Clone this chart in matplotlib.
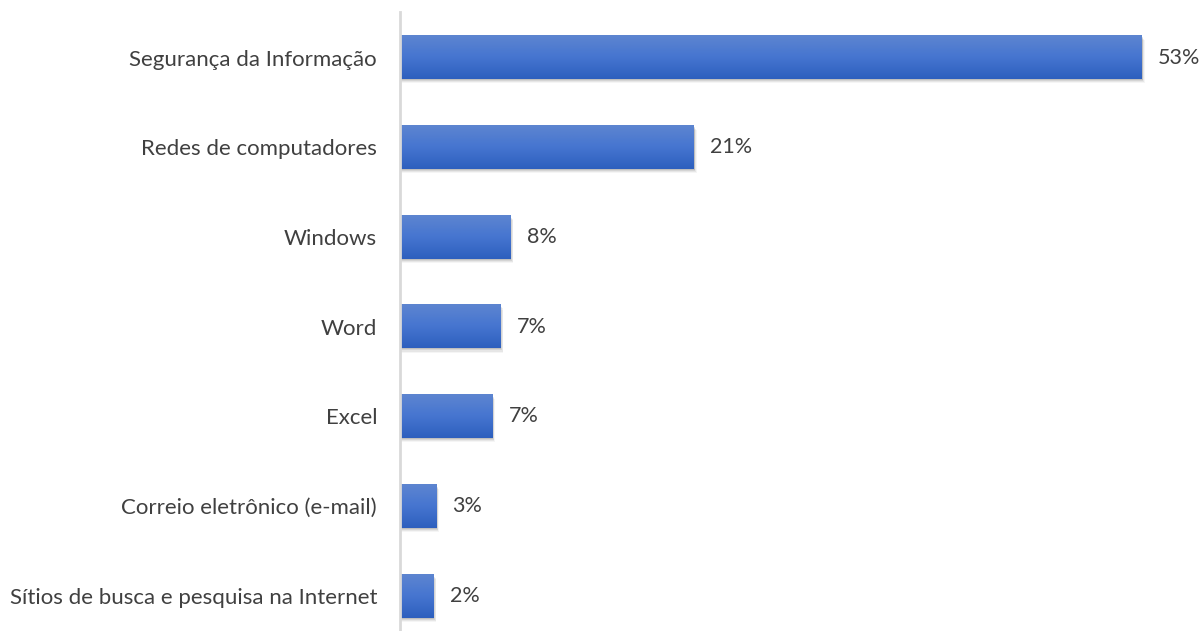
import numpy as np
import matplotlib
matplotlib.use("Agg")
import matplotlib.pyplot as plt
from matplotlib.colors import LinearSegmentedColormap
from matplotlib.patches import Rectangle

# dados do gráfico (de cima para baixo)
categorias = [
    "Segurança da Informação",
    "Redes de computadores",
    "Windows",
    "Word",
    "Excel",
    "Correio eletrônico (e-mail)",
    "Sítios de busca e pesquisa na Internet",
]
valores = [53, 21, 7.9, 7.2, 6.6, 2.6, 2.4]

plt.rcParams['font.family'] = ['Lato', 'DejaVu Sans']

fig = plt.figure(figsize=(12.04, 6.31), dpi=100)
ax = fig.add_axes([400 / 1204, 0, 804 / 1204, 619 / 631])

gradiente = LinearSegmentedColormap.from_list("barra", ["#2d5fbe", "#4675d0", "#5d85d0"])
altura = 0.48
grad = np.linspace(0, 1, 64).reshape(-1, 1)

for i, v in enumerate(valores):
    y0 = i - altura / 2
    # sombra
    for k, a in enumerate([0.10, 0.08, 0.06, 0.04]):
        d = (k + 1) * 0.012
        ax.add_patch(Rectangle((0, y0 + d), v + d * 4, altura, color="black",
                               alpha=a, lw=0, zorder=1))
    ax.imshow(grad, cmap=gradiente, aspect="auto", zorder=2,
              extent=[0, v, i + altura / 2, i - altura / 2], origin="lower")
    ax.text(v + 1.15, i, f"{v:.0f}%", va="center", ha="left", fontsize=15.5,
            color="#404040")

ax.set_xlim(0, 804 / 14.0)
ax.set_ylim(6 + 0.39, -0.507)
ax.set_yticks(range(len(categorias)))
ax.set_yticklabels(categorias, fontsize=16, color="#404040")
ax.tick_params(axis="y", length=0, pad=16.5)
ax.set_xticks([])
for s in ["top", "right", "bottom"]:
    ax.spines[s].set_visible(False)
ax.spines["left"].set_color("#d9d9d9")
ax.spines["left"].set_linewidth(2)

fig.savefig("out.png", dpi=100)
